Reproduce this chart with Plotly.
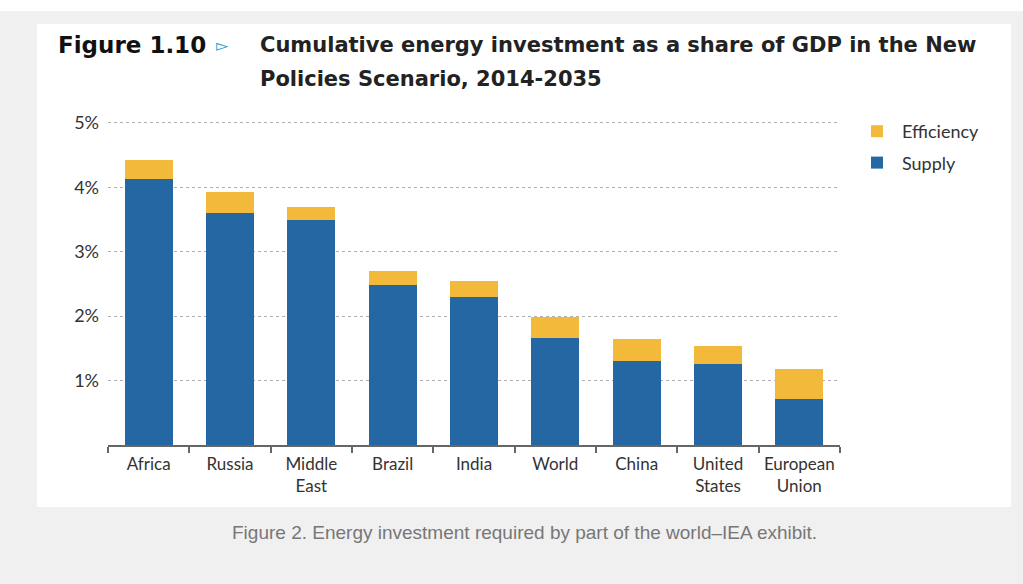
import plotly.graph_objects as go

categories = ["Africa", "Russia", "Middle<br>East", "Brazil", "India", "World",
              "China", "United<br>States", "European<br>Union"]
supply = [4.13, 3.60, 3.50, 2.48, 2.29, 1.66, 1.31, 1.25, 0.71]
efficiency = [0.29, 0.32, 0.19, 0.22, 0.25, 0.32, 0.34, 0.28, 0.47]
y_ticks = [1, 2, 3, 4, 5]
y_tick_labels = ["1%", "2%", "3%", "4%", "5%"]

W, H = 1023, 584
L, R, T, B = 108, 840, 119, 445
pw, ph = R - L, B - T


def px(x):
    return (x - L) / pw


def py(y):
    return (B - y) / ph


fig = go.Figure()
fig.add_trace(go.Bar(x=categories, y=supply, name="Supply",
                     marker=dict(color="#2467a3", line=dict(width=0)),
                     legendrank=2, legendgroup="s"))
fig.add_trace(go.Bar(x=categories, y=efficiency, name="Efficiency",
                     marker=dict(color="#f3b93b", line=dict(width=0)),
                     legendrank=1, legendgroup="e"))

shapes = [
    dict(type="rect", xref="paper", yref="paper", x0=px(37), x1=px(1011),
         y0=py(507), y1=py(24), fillcolor="white", line=dict(width=0), layer="below"),
    dict(type="rect", xref="paper", yref="paper", x0=px(0), x1=px(W),
         y0=py(11), y1=py(0), fillcolor="white", line=dict(width=0), layer="below"),
]

title_font = "DejaVu Sans"
annotations = [
    dict(text="<b>Figure 1.10</b>", x=px(56), y=py(45), xref="paper", yref="paper",
         xanchor="left", yanchor="middle", showarrow=False,
         font=dict(family=title_font, size=23, color="#111")),
    dict(text="▻", x=px(214), y=py(45), xref="paper", yref="paper",
         xanchor="left", yanchor="middle", showarrow=False,
         font=dict(family="DejaVu Sans", size=16, color="#2a9fd6")),
    dict(text="<b>Cumulative energy investment as a share of GDP in the New</b>",
         x=px(258), y=py(45), xref="paper", yref="paper",
         xanchor="left", yanchor="middle", showarrow=False,
         font=dict(family=title_font, size=21, color="#222")),
    dict(text="<b>Policies Scenario, 2014-2035</b>",
         x=px(258), y=py(79), xref="paper", yref="paper",
         xanchor="left", yanchor="middle", showarrow=False,
         font=dict(family=title_font, size=21, color="#222")),
    dict(text="Figure 2. Energy investment required by part of the world–IEA exhibit.",
         x=px(524), y=py(532), xref="paper", yref="paper",
         xanchor="center", yanchor="middle", showarrow=False,
         font=dict(family="Liberation Sans", size=19, color="#777")),
]

fig.update_layout(
    width=W, height=H,
    margin=dict(l=L, r=W - R, t=T, b=H - B, pad=0),
    paper_bgcolor="#f0f0f0",
    plot_bgcolor="white",
    barmode="stack",
    bargap=0.41,
    font=dict(family="Lato", size=17, color="#333"),
    shapes=shapes,
    annotations=annotations,
    showlegend=True,
    legend=dict(x=px(852), y=py(113), xanchor="left", yanchor="top",
                traceorder="grouped", tracegroupgap=5, itemwidth=40,
                bgcolor="rgba(0,0,0,0)", font=dict(family="Lato", size=18, color="#333")),
    xaxis=dict(showgrid=False, showline=True, linecolor="#666", linewidth=1.5,
               ticks="outside", tickson="boundaries", ticklen=6, tickcolor="#666",
               tickwidth=1.5, tickangle=0, ticklabelstandoff=3,
               tickfont=dict(family="Lato", size=17, color="#333"),
               fixedrange=True),
    yaxis=dict(range=[0, 5.06], tickvals=y_ticks, ticktext=y_tick_labels,
               showgrid=True, gridcolor="#b0b0b0", griddash="dot", gridwidth=1,
               zeroline=False, showline=False, ticks="", ticklabelstandoff=8,
               tickfont=dict(family="Lato", size=18, color="#333"), fixedrange=True),
)

fig.write_html("out.html")
